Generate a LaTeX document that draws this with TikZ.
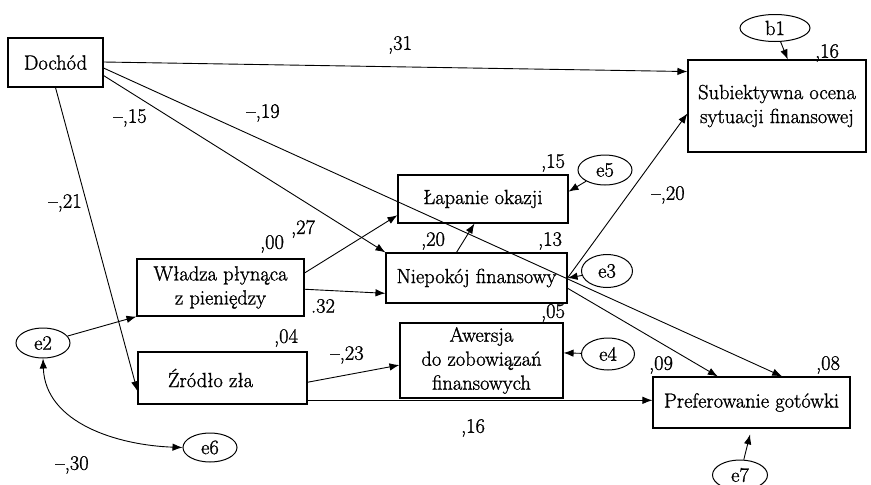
\documentclass[tikz,border=0pt]{standalone}
\usepackage{fontspec}
\setmainfont{Latin Modern Roman}[FakeBold=1.2]
\usetikzlibrary{calc,shapes.geometric,arrows.meta}

\tikzset{
  var/.style={draw,line width=1.1pt,align=center,inner sep=2pt},
  err/.style={draw,ellipse,line width=1pt,inner sep=0pt},
  path/.style={-{Latex[length=10pt,width=7.5pt]},line width=0.9pt},
  coef/.style={inner sep=0pt},
}

\begin{document}
\begin{tikzpicture}[x=1pt,y=-1pt,font=\fontsize{20.5}{24}\selectfont]
    \useasboundingbox (0,0) rectangle (871,485);
    \node[var,minimum width=95pt,minimum height=49pt] (dochod) at (55.5,62.5) {Dochód};
    \node[var,minimum width=178pt,minimum height=92pt] (subj) at (777,106) {Subiektywna ocena\\sytuacji finansowej};
    \node[var,minimum width=170pt,minimum height=48pt] (lapanie) at (483,199) {Łapanie okazji};
    \node[var,minimum width=181pt,minimum height=50pt] (niep) at (476.5,278) {Niepokój finansowy};
    \node[var,minimum width=167pt,minimum height=57pt] (wladza) at (220.5,287.5) {Władza płynąca\\z pieniędzy};
    \node[var,minimum width=169pt,minimum height=52pt] (zrodlo) at (222.5,378) {Źródło zła\hspace*{24pt}};
    \node[var,minimum width=163pt,minimum height=75pt] (awersja) at (481.5,360.5) {Awersja\\do zobowiązań\\finansowych};
    \node[var,minimum width=197pt,minimum height=51pt] (pref) at (751.5,402.5) {Preferowanie gotówki};

    \node[err,minimum width=70pt,minimum height=27pt] (b1) at (775,28) {b1};
    \node[err,minimum width=54pt,minimum height=30pt] (e5) at (605,170) {e5};
    \node[err,minimum width=51pt,minimum height=33pt] (e3) at (607,271) {e3};
    \node[err,minimum width=53pt,minimum height=32pt] (e4) at (608,354) {e4};
    \node[err,minimum width=55pt,minimum height=30pt] (e7) at (740,475) {e7};
    \node[err,minimum width=54pt,minimum height=30pt] (e2) at (43,343) {e2};
    \node[err,minimum width=54pt,minimum height=29pt] (e6) at (210,447.5) {e6};

    \draw[path] ($(dochod.north east)!.49!(dochod.south east)$) -- ($(subj.north west)!.13!(subj.south west)$);
    \draw[path] ($(dochod.north east)!.61!(dochod.south east)$) -- ($(pref.north west)!.655!(pref.north east)$);
    \draw[path] ($(dochod.north east)!.76!(dochod.south east)$) -- (niep.north west);
    \draw[path] (dochod.south) -- ($(zrodlo.north west)!.75!(zrodlo.south west)$);
    \draw[path] ($(wladza.north east)!.25!(wladza.south east)$) -- ($(lapanie.north west)!.83!(lapanie.south west)$);
    \draw[path] ($(wladza.north east)!.53!(wladza.south east)$) -- ($(niep.north west)!.8!(niep.south west)$);
    \draw[path] ($(niep.north west)!.39!(niep.north east)$) -- ($(lapanie.south west)!.45!(lapanie.south east)$);
    \draw[path] (niep.east) -- ($(subj.north west)!.58!(subj.south west)$);
    \draw[path] ($(niep.north east)!.7!(niep.south east)$) -- ($(pref.north west)!.33!(pref.north east)$);
    \draw[path] ($(zrodlo.north east)!.58!(zrodlo.south east)$) -- ($(awersja.north west)!.56!(awersja.south west)$);
    \coordinate (zr) at ($(zrodlo.north east)!.92!(zrodlo.south east)$);
    \draw[path] (zr) -- (zr -| pref.west);

    \draw[path] (b1) -- ($(subj.north west)!.56!(subj.north east)$);
    \draw[path] (e5) -- ($(lapanie.north east)!.35!(lapanie.south east)$);
    \draw[path] (e3) -- (niep.east);
    \draw[path] (e4) -- ($(awersja.north east)!.4!(awersja.south east)$);
    \draw[path,shorten >=6pt] (e7) -- (pref.south);
    \draw[path] (e2) -- (wladza.south west);
    \draw[path,{Latex[length=10pt,width=7.5pt]}-{Latex[length=10pt,width=7.5pt]}] (e2.south) to[out=-88,in=178] (e6.west);

    \node[coef] (c31) at (400,45) {,31};
    \node[coef] (c19) at (263,113) {--,19};
    \node[coef] (c15) at (130,118) {--,15};
    \node[coef] (c21) at (65,203) {--,21};
    \node[coef] (c00) at (272,244) {,00};
    \node[coef] (c27) at (303,229) {,27};
    \node[coef] (c32) at (323,306) {.32};
    \node[coef] (c04) at (286,338) {,04};
    \node[coef] (c23) at (347,355) {--,23};
    \node[coef] (c20a) at (433,241) {,20};
    \node[coef] (c13) at (550,241) {,13};
    \node[coef] (c15b) at (553,163) {,15};
    \node[coef] (c05) at (553,313) {,05};
    \node[coef] (c20b) at (668,195) {--,20};
    \node[coef] (c16a) at (827,53) {,16};
    \node[coef] (c09) at (661,365) {,09};
    \node[coef] (c08) at (828,365) {,08};
    \node[coef] (c16b) at (473,428) {,16};
    \node[coef] (c30) at (72,465) {--,30};
\end{tikzpicture}
\end{document}
